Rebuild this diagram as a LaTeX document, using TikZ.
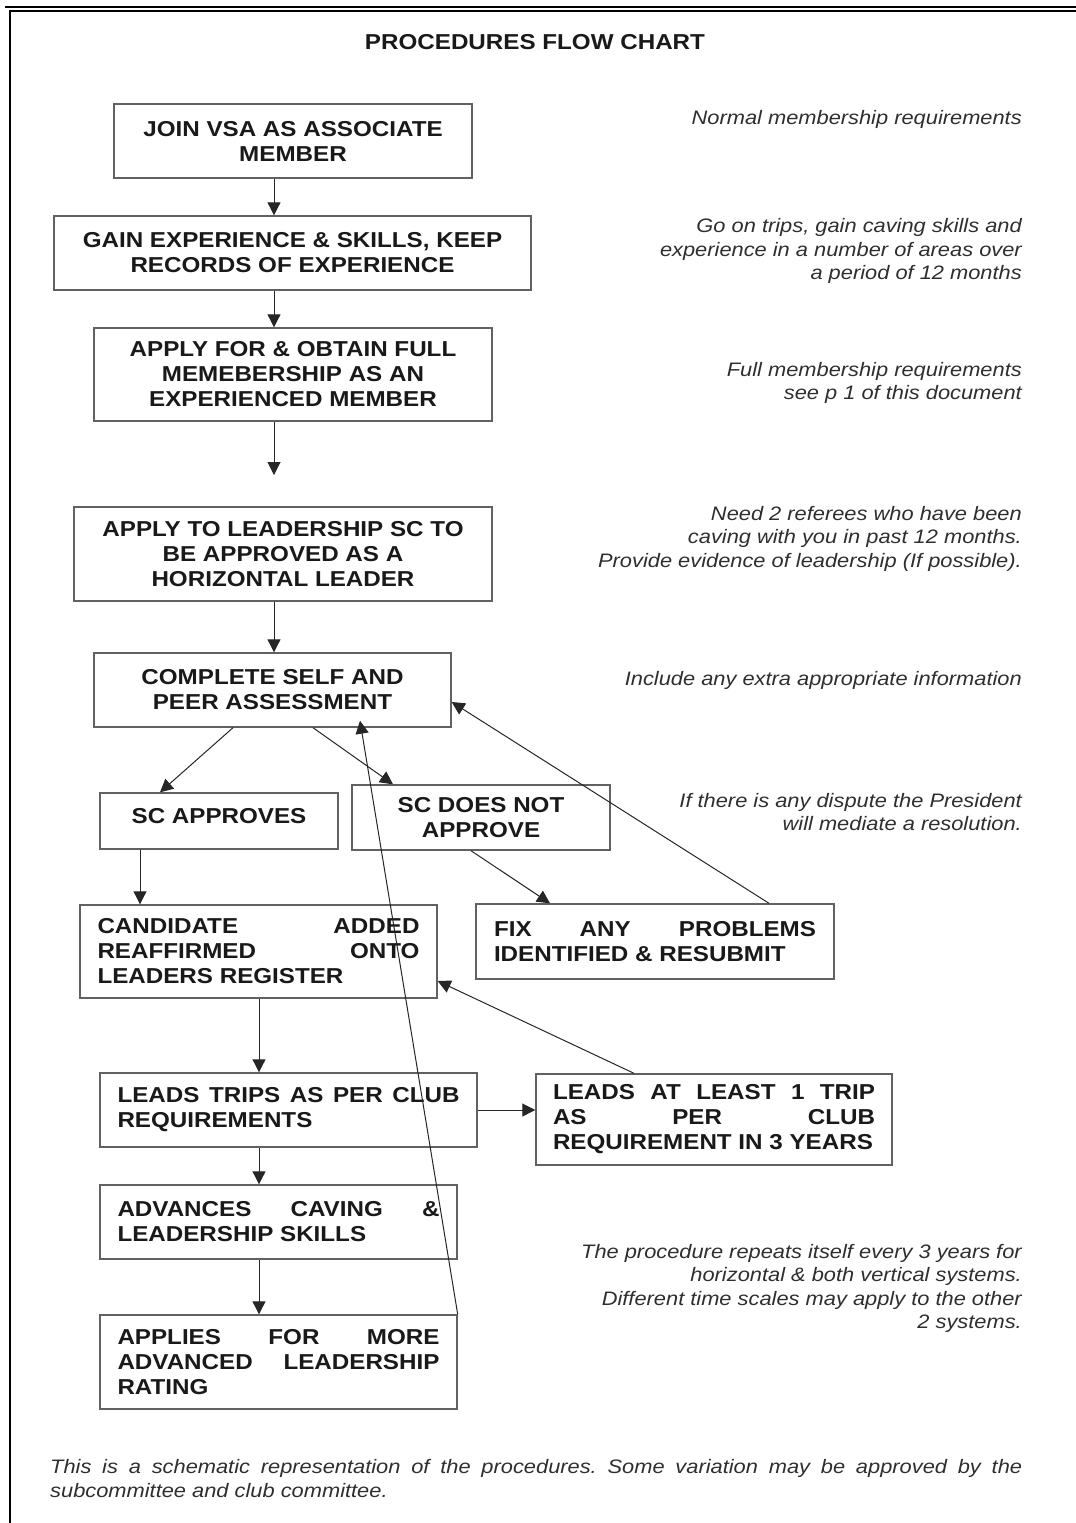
\documentclass[tikz,border=0pt]{standalone}
\usepackage{fontspec}
\setmainfont{Liberation Sans}[FakeStretch=1.12]
\usetikzlibrary{arrows.meta}
\newcommand\boxfnt{\fontsize{21.6}{25}\selectfont\bfseries}
\newcommand\notefnt{\fontsize{19.5}{23.5}\selectfont\itshape}
\newcommand\jline[1]{\makebox[322pt][s]{#1}}
\frenchspacing
\begin{document}
\begin{tikzpicture}[x=1pt,y=-1pt,
  box/.style={draw=black!62, line width=1.4pt, rectangle, inner sep=0pt, text=black!90, font=\boxfnt},
  conn/.style={draw=black!85, line width=1pt, -{Triangle[length=13pt,width=13pt]}},
  note/.style={anchor=east, align=right, font=\notefnt, text=black!82, inner sep=0pt},
]
\useasboundingbox (0,0) rectangle (1076,1523);
% frame
\draw[line width=2pt] (5,6.5) -- (1076,6.5);
\draw[line width=2pt] (9,10.5) -- (1076,10.5);
\draw[line width=2pt] (10,9.5) -- (10,1523);

\node[font=\boxfnt, text=black!90, inner sep=0pt] (title) at (535,42) {PROCEDURES FLOW CHART};

% boxes
\node[box, minimum width=358, minimum height=74, align=center] (join) at (293,141)
  {JOIN VSA AS ASSOCIATE\\MEMBER};
\node[box, minimum width=477, minimum height=74, align=center] (gain) at (292.5,253)
  {GAIN EXPERIENCE \& SKILLS, KEEP\\RECORDS OF EXPERIENCE};
\node[box, minimum width=398, minimum height=93, align=center] (full) at (293,374.5)
  {APPLY FOR \& OBTAIN FULL\\MEMEBERSHIP AS AN\\EXPERIENCED MEMBER};
\node[box, minimum width=418, minimum height=94, align=center] (lead) at (283,554)
  {APPLY TO LEADERSHIP SC TO\\BE APPROVED AS A\\HORIZONTAL LEADER};
\node[box, minimum width=357, minimum height=74, align=center] (assess) at (272.5,690)
  {COMPLETE SELF AND\\PEER ASSESSMENT};
\node[box, minimum width=238, minimum height=56, align=center] (appr) at (219,821)
  {\raisebox{5pt}[\height][\depth]{SC APPROVES}};
\node[box, minimum width=258, minimum height=65, align=center] (notappr) at (481,817.5)
  {SC DOES NOT\\APPROVE};
\node[box, minimum width=357, minimum height=93, align=left] (cand) at (258.5,951.5)
  {\jline{CANDIDATE ADDED}\\\jline{REAFFIRMED ONTO}\\LEADERS REGISTER};
\node[box, minimum width=358, minimum height=75, align=left] (fix) at (655,941.5)
  {\jline{FIX ANY PROBLEMS}\\IDENTIFIED \& RESUBMIT};
\node[box, minimum width=377, minimum height=74, align=left] (trips) at (288.5,1110)
  {\makebox[342pt][s]{LEADS TRIPS AS PER CLUB}\\REQUIREMENTS};
\node[box, minimum width=356, minimum height=91, align=left] (least) at (714,1119.5)
  {\jline{LEADS AT LEAST 1 TRIP}\\\jline{AS PER CLUB}\\REQUIREMENT IN 3 YEARS};
\node[box, minimum width=357, minimum height=74, align=left] (adv) at (278.5,1222)
  {\jline{ADVANCES CAVING \&}\\LEADERSHIP SKILLS};
\node[box, minimum width=357, minimum height=94, align=left] (applies) at (278.5,1362)
  {\jline{APPLIES FOR MORE}\\\jline{ADVANCED LEADERSHIP}\\RATING};

% connectors
\coordinate (c1) at (274,0);
\coordinate (stub) at (274,475);
\draw[conn] (join.south -| c1) -- (gain.north -| c1);
\draw[conn] (gain.south -| c1) -- (full.north -| c1);
\draw[conn] (full.south -| c1) -- (stub);
\draw[conn] (lead.south -| c1) -- (assess.north -| c1);
\draw[conn] ([xshift=-39.5pt]assess.south) -- ([xshift=-59pt]appr.north);
\draw[conn] ([xshift=40.5pt]assess.south) -- ([xshift=-88pt]notappr.north);
\draw[conn] ([xshift=-79pt]appr.south) -- ([xshift=-118.5pt]cand.north);
\draw[conn] ([xshift=-10pt]notappr.south) -- ([xshift=-105pt]fix.north);
\draw[conn] ([xshift=114pt]fix.north) -- ([yshift=-12pt]assess.east);
\draw[conn] ([xshift=-80pt]least.north) -- ([yshift=-29.5pt]cand.east);
\draw[conn] ([xshift=0.5pt]cand.south) -- ([xshift=-29.5pt]trips.north);
\draw[conn] (trips.east) -- (trips.east -| least.west);
\draw[conn] ([xshift=-29.5pt]trips.south) -- ([xshift=-19.5pt]adv.north);
\draw[conn] ([xshift=-19.5pt]adv.south) -- ([xshift=-19.5pt]applies.north);
\draw[conn] (applies.north east) -- ([xshift=87.5pt,yshift=7pt]assess.south);

% notes
\node[note] (n1) at (1022,119) {Normal membership requirements};
\node[note] (n2) at (1022,251) {Go on trips, gain caving skills and\\experience in a number of areas over\\a period of 12 months};
\node[note] (n3) at (1022,383) {Full membership requirements\\see p 1 of this document};
\node[note] (n4) at (1022,538.5) {Need 2 referees who have been\\caving with you in past 12 months.\\Provide evidence of leadership (If possible).};
\node[note] (n5) at (1022,680) {Include any extra appropriate information};
\node[note] (n6) at (1022,812) {If there is any dispute the President\\will mediate a resolution.};
\node[note] (n7) at (1022,1288.5) {The procedure repeats itself every 3 years for\\horizontal \& both vertical systems.\\Different time scales may apply to the other\\2 systems.};
\node[note, anchor=west, align=left] (n8) at (50,1478.5) {\makebox[972pt][s]{This is a schematic representation of the procedures. Some variation may be approved by the}\\subcommittee and club committee.};
\end{tikzpicture}
\end{document}
